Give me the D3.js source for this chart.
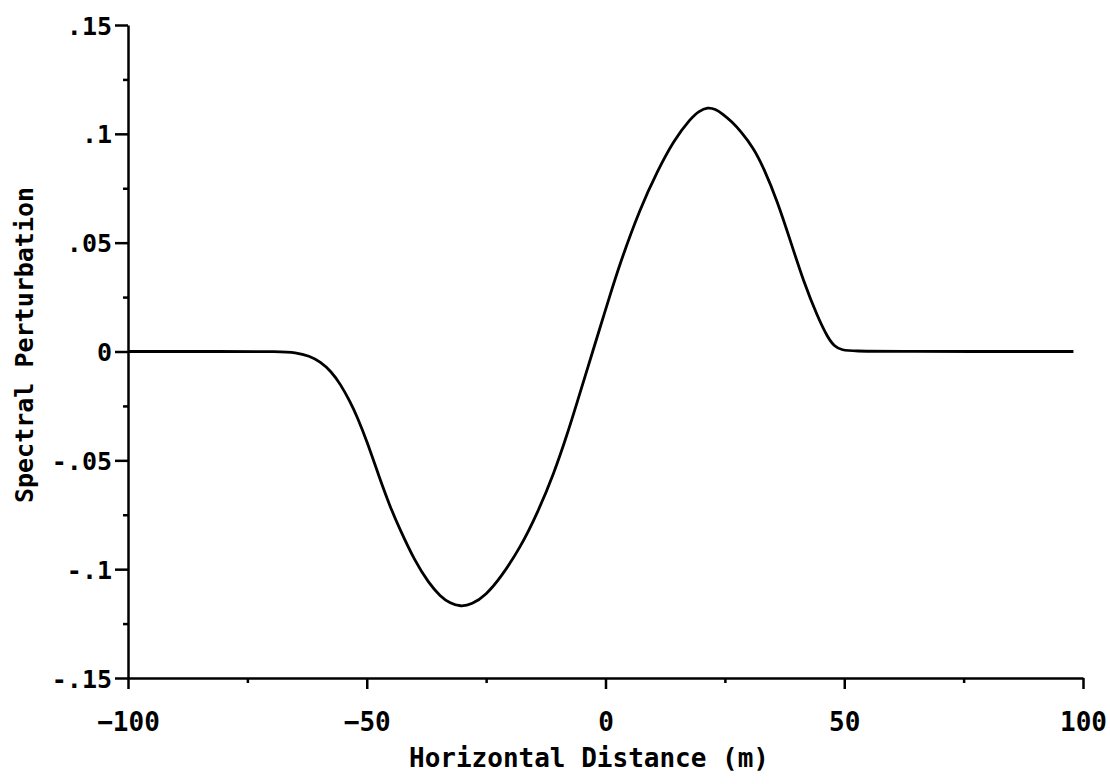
<!DOCTYPE html>
<html>
<head>
<meta charset="utf-8">
<script src="https://cdn.jsdelivr.net/npm/d3@7"></script>
<style>
  body { margin: 0; background: #fff; }
  .axis text, .axis-title { font-family: "DejaVu Sans Mono", monospace; font-weight: bold; fill: #000; }
  .axis path, .axis line { stroke: #000; stroke-width: 2.5; }
</style>
</head>
<body>
<div id="chart"></div>
<script>
// curve: horizontal distance (m) vs spectral perturbation
var distance = [-100, -80, -68, -65, -62, -59.7, -57.5, -55.5, -53.5, -52, -50, -47.5, -45, -43, -40, -37, -34.6, -32.5, -30.4, -28, -25, -22, -17.8, -14.2, -10.8, -8, -5.9, -3.8, -1, 0.4, 3.1, 7.3, 10.9, 14.3, 17.8, 19.6, 21.4, 23, 24.5, 26.5, 28.3, 31, 33.1, 36, 38.7, 41.5, 44.4, 46.5, 48, 49.5, 52, 60, 98];
var perturbation = [0, 0, 0, -0.0004, -0.002, -0.0048, -0.009, -0.015, -0.023, -0.030, -0.041, -0.057, -0.072, -0.082, -0.096, -0.1065, -0.1125, -0.1158, -0.1172, -0.1163, -0.1118, -0.1040, -0.090, -0.074, -0.056, -0.038, -0.023, -0.008, 0.012, 0.022, 0.041, 0.066, 0.083, 0.097, 0.107, 0.1105, 0.1122, 0.1114, 0.1092, 0.1055, 0.1012, 0.0935, 0.0845, 0.069, 0.051, 0.032, 0.016, 0.0065, 0.0022, 0.0006, 0.0002, 0, 0];

var xTicks = [-100, -50, 0, 50, 100];
var xMinor = [-75, -25, 25, 75];
var yTicks = [0.15, 0.1, 0.05, 0, -0.05, -0.1, -0.15];
var yTickLabels = [".15", ".1", ".05", "0", "-.05", "-.1", "-.15"];
var yMinor = [0.125, 0.075, 0.025, -0.025, -0.075, -0.125];

var width = 1110, height = 784;
var margin = {top: 25, right: 27, bottom: 106, left: 128};

var svg = d3.select("#chart").append("svg")
  .attr("width", width)
  .attr("height", height);

var x = d3.scaleLinear().domain([-100, 100]).range([margin.left, width - margin.right]);
var y = d3.scaleLinear().domain([-0.15, 0.15]).range([height - margin.bottom, margin.top]);

// minor ticks first
svg.append("g").attr("class", "axis")
  .attr("transform", "translate(0," + y(-0.15) + ")")
  .call(d3.axisBottom(x).tickValues(xMinor).tickSize(5).tickSizeOuter(0).tickFormat(""))
  .select(".domain").remove();

svg.append("g").attr("class", "axis")
  .attr("transform", "translate(" + x(-100) + ",0)")
  .call(d3.axisLeft(y).tickValues(yMinor).tickSize(5).tickSizeOuter(0).tickFormat(""))
  .select(".domain").remove();

// x axis
var xAxis = svg.append("g").attr("class", "axis")
  .attr("transform", "translate(0," + y(-0.15) + ")")
  .call(d3.axisBottom(x).tickValues(xTicks).tickSize(11).tickSizeOuter(0).tickFormat(d3.format("d")));
xAxis.selectAll("text")
  .attr("y", 53).attr("dy", null)
  .style("font-size", "26px");

// y axis
var yAxis = svg.append("g").attr("class", "axis")
  .attr("transform", "translate(" + x(-100) + ",0)")
  .call(d3.axisLeft(y).tickValues(yTicks).tickSize(13).tickSizeOuter(0)
    .tickFormat(function(d, i) { return yTickLabels[i]; }));
yAxis.selectAll("text")
  .attr("x", -16).attr("dy", "0.36em")
  .style("font-size", "25px");

// curve
var points = distance.map(function(d, i) { return [d, perturbation[i]]; });
var line = d3.line()
  .x(function(d) { return x(d[0]); })
  .y(function(d) { return y(d[1]); })
  .curve(d3.curveBasis);

svg.append("path")
  .datum(points)
  .attr("d", line)
  .attr("fill", "none")
  .attr("stroke", "#000")
  .attr("stroke-width", 2.8)
  .attr("stroke-linejoin", "round");

// titles
svg.append("text")
  .attr("class", "axis-title")
  .attr("x", 589)
  .attr("y", 767)
  .attr("text-anchor", "middle")
  .style("font-size", "26px")
  .text("Horizontal Distance (m)");

svg.append("text")
  .attr("class", "axis-title")
  .attr("transform", "translate(33,345) rotate(-90)")
  .attr("text-anchor", "middle")
  .style("font-size", "25px")
  .text("Spectral Perturbation");
</script>
</body>
</html>
